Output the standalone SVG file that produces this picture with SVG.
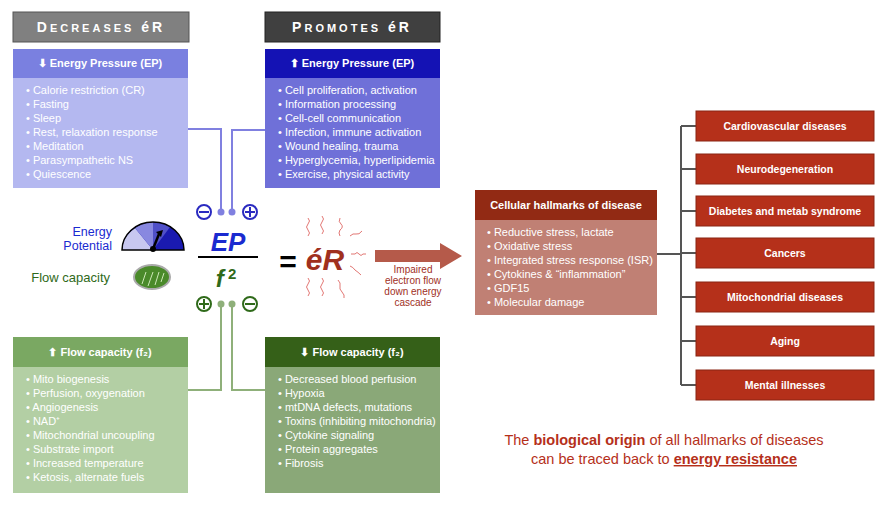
<svg xmlns="http://www.w3.org/2000/svg" width="885" height="512" viewBox="0 0 885 512">
<style>
text{font-family:"Liberation Sans",Arial,sans-serif}
.hd{font-size:11px;font-weight:bold;fill:#fff;text-anchor:middle}
.li{font-size:11px;fill:#fff}
.dz{font-size:10.5px;font-weight:bold;fill:#fff;text-anchor:middle}
.dis{fill:#b5301a;stroke:#8a2412;stroke-width:1}
.sq{fill:none;stroke:#d9534f;stroke-width:0.8}
</style>
<rect width="885" height="512" fill="#fff"/>
<g id="decreases"><rect x="13" y="12" width="176" height="30" fill="#808080" stroke="#555"/>
<text x="101" y="32" font-size="14" font-weight="bold" fill="#fff" text-anchor="middle" letter-spacing="3">D<tspan font-size="11">ECREASES</tspan> éR</text></g>
<g id="promotes"><rect x="265" y="12" width="175" height="30" fill="#404040" stroke="#222"/>
<text x="352" y="32" font-size="14" font-weight="bold" fill="#fff" text-anchor="middle" letter-spacing="3">P<tspan font-size="11">ROMOTES</tspan> éR</text></g>
<g id="connectors" fill="none" stroke-width="2">
<path d="M188 129H221V212M265 130H232V212" stroke="#8080e0"/>
<path d="M188 390H221V304M265 390H232V304" stroke="#8fb07a"/>
<path d="M657 254H681M681 126V385M681 126H696M681 169H696M681 211H696M681 253H696M681 297H696M681 341H696M681 385H696" stroke="#555"/>
<path d="M375 250H440V243L462 256L440 269V262H375Z" fill="#b55a4a" stroke="none"/>
</g>
<g id="ep-down"><rect x="13" y="49" width="175" height="139" fill="#b4b8f0"/><rect x="13" y="49" width="175" height="29" fill="#7a80e0"/>
<text class="hd" x="100" y="67">⬇ Energy Pressure (EP)</text>
<text class="li" x="26" y="94">• Calorie restriction (CR)<tspan x="26" dy="14">• Fasting</tspan><tspan x="26" dy="14">• Sleep</tspan><tspan x="26" dy="14">• Rest, relaxation response</tspan><tspan x="26" dy="14">• Meditation</tspan><tspan x="26" dy="14">• Parasympathetic NS</tspan><tspan x="26" dy="14">• Quiescence</tspan></text></g>
<g id="ep-up"><rect x="265" y="49" width="175" height="139" fill="#6f70d8"/><rect x="265" y="49" width="175" height="29" fill="#1412b4"/>
<text class="hd" x="352" y="67">⬆ Energy Pressure (EP)</text>
<text class="li" x="278" y="94">• Cell proliferation, activation<tspan x="278" dy="14">• Information processing</tspan><tspan x="278" dy="14">• Cell-cell communication</tspan><tspan x="278" dy="14">• Infection, immune activation</tspan><tspan x="278" dy="14">• Wound healing, trauma</tspan><tspan x="278" dy="14">• Hyperglycemia, hyperlipidemia</tspan><tspan x="278" dy="14">• Exercise, physical activity</tspan></text></g>
<g id="fc-up"><rect x="13" y="337" width="175" height="156" fill="#b3cfa4"/><rect x="13" y="337" width="175" height="30" fill="#7aa862"/>
<text class="hd" x="100" y="356">⬆ Flow capacity (f₂)</text>
<text class="li" x="26" y="383">• Mito biogenesis<tspan x="26" dy="14">• Perfusion, oxygenation</tspan><tspan x="26" dy="14">• Angiogenesis</tspan><tspan x="26" dy="14">• NAD⁺</tspan><tspan x="26" dy="14">• Mitochondrial uncoupling</tspan><tspan x="26" dy="14">• Substrate import</tspan><tspan x="26" dy="14">• Increased temperature</tspan><tspan x="26" dy="14">• Ketosis, alternate fuels</tspan></text></g>
<g id="fc-down"><rect x="265" y="337" width="175" height="156" fill="#8aa878"/><rect x="265" y="337" width="175" height="30" fill="#356018"/>
<text class="hd" x="352" y="356">⬇ Flow capacity (f₂)</text>
<text class="li" x="278" y="383">• Decreased blood perfusion<tspan x="278" dy="14">• Hypoxia</tspan><tspan x="278" dy="14">• mtDNA defects, mutations</tspan><tspan x="278" dy="14">• Toxins (inhibiting mitochondria)</tspan><tspan x="278" dy="14">• Cytokine signaling</tspan><tspan x="278" dy="14">• Protein aggregates</tspan><tspan x="278" dy="14">• Fibrosis</tspan></text></g>
<g id="signs">
<circle cx="221" cy="212" r="3.5" fill="#8080e0"/><circle cx="232" cy="212" r="3.5" fill="#8080e0"/>
<circle cx="204" cy="212" r="7" fill="none" stroke="#2a2ac0" stroke-width="2"/><path d="M199 212H209" stroke="#2a2ac0" stroke-width="2"/>
<circle cx="250" cy="212" r="7" fill="none" stroke="#2a2ac0" stroke-width="2"/><path d="M245 212H255M250 207V217" stroke="#2a2ac0" stroke-width="2"/>
<circle cx="221" cy="304" r="3.5" fill="#8fb07a"/><circle cx="232" cy="304" r="3.5" fill="#8fb07a"/>
<circle cx="204" cy="304" r="7" fill="none" stroke="#2f6a1a" stroke-width="2"/><path d="M199 304H209M204 299V309" stroke="#2f6a1a" stroke-width="2"/>
<circle cx="250" cy="304" r="7" fill="none" stroke="#2f6a1a" stroke-width="2"/><path d="M245 304H255" stroke="#2f6a1a" stroke-width="2"/>
</g>
<g id="equation">
<text x="228" y="251" font-size="26" font-weight="bold" font-style="italic" fill="#1a2ad0" text-anchor="middle">EP</text>
<path d="M198 257H258" stroke="#000" stroke-width="2"/>
<text x="226" y="287" font-size="24" font-weight="bold" font-style="italic" fill="#2f6a1a" text-anchor="middle">f<tspan font-size="15" font-style="normal" dy="-8"> 2</tspan></text>
<text x="288" y="272" font-size="30" font-weight="bold" fill="#000" text-anchor="middle">=</text>
<text x="325" y="270" font-size="30" font-weight="bold" font-style="italic" fill="#a0301e" text-anchor="middle">éR</text>
<g class="sq">
<path d="M308 218q3 3 0 6q-3 3 0 6q3 3 0 6"/><path d="M322 216q3 3 0 6q-3 3 0 6q3 3 0 6"/><path d="M340 218q-2 4 1 6q3 3 -1 6q-2 3 0 6"/>
<path d="M350 236q3 -3 6 -2q3 1 6 -3"/><path d="M351 254h4q2 -3 4 0q2 3 4 0h3"/><path d="M350 266q3 1 5 4q3 2 6 5"/>
<path d="M308 278q3 3 0 6q-3 3 0 6q3 3 0 6"/><path d="M322 278q3 3 0 6q-3 3 0 6q3 3 0 6"/><path d="M338 280q3 3 2 6q-1 3 2 6q3 3 2 6"/>
</g>
<text x="413" y="273" font-size="10" fill="#a0301e" text-anchor="middle">Impaired<tspan x="413" dy="11">electron flow</tspan><tspan x="413" dy="11">down energy</tspan><tspan x="413" dy="11">cascade</tspan></text>
</g>
<g id="legend">
<text x="112" y="236" font-size="12.5" fill="#1a2ad0" text-anchor="end">Energy<tspan x="112" dy="14">Potential</tspan></text>
<path d="M122 250A31 28 0 0 1 184 250Z" fill="#1a1ab0"/>
<path d="M122 250A31 28 0 0 1 135 228L153 250Z" fill="#c8c8f0"/>
<path d="M135 228A31 28 0 0 1 153 222L153 250Z" fill="#8888e0"/>
<path d="M153 222A31 28 0 0 1 170 227L153 250Z" fill="#5050c8"/>
<path d="M122 250A31 28 0 0 1 184 250Z" fill="none" stroke="#000" stroke-width="1.5"/>
<path d="M153 249L159 234" stroke="#000" stroke-width="2.5"/><path d="M156 232L163 230L161 237Z" fill="#000"/>
<circle cx="153" cy="249" r="3" fill="#000"/>
<text x="110" y="282" font-size="13" fill="#2f6a1a" text-anchor="end">Flow capacity</text>
<ellipse cx="152" cy="277" rx="18" ry="12" fill="#4a8a2a" stroke="#aaa" stroke-width="2"/>
<path d="M142 284l4 -12M148 286l5 -14M155 285l4 -13M161 282l3 -9" stroke="#cde8b8" stroke-width="1"/>
</g>
<g id="hallmarks"><rect x="475" y="190" width="182" height="125" fill="#c08074"/><rect x="475" y="190" width="182" height="30" fill="#922a14"/>
<text class="hd" x="566" y="209">Cellular hallmarks of disease</text>
<text class="li" x="487" y="236">• Reductive stress, lactate<tspan x="487" dy="14">• Oxidative stress</tspan><tspan x="487" dy="14">• Integrated stress response (ISR)</tspan><tspan x="487" dy="14">• Cytokines &amp; “inflammation”</tspan><tspan x="487" dy="14">• GDF15</tspan><tspan x="487" dy="14">• Molecular damage</tspan></text></g>
<g id="d1"><rect class="dis" x="696" y="111" width="178" height="30"/><text class="dz" x="785" y="130">Cardiovascular diseases</text></g>
<g id="d2"><rect class="dis" x="696" y="154" width="178" height="30"/><text class="dz" x="785" y="173">Neurodegeneration</text></g>
<g id="d3"><rect class="dis" x="696" y="196" width="178" height="30"/><text class="dz" x="785" y="215">Diabetes and metab syndrome</text></g>
<g id="d4"><rect class="dis" x="696" y="238" width="178" height="30"/><text class="dz" x="785" y="257">Cancers</text></g>
<g id="d5"><rect class="dis" x="696" y="282" width="178" height="30"/><text class="dz" x="785" y="301">Mitochondrial diseases</text></g>
<g id="d6"><rect class="dis" x="696" y="326" width="178" height="30"/><text class="dz" x="785" y="345">Aging</text></g>
<g id="d7"><rect class="dis" x="696" y="370" width="178" height="30"/><text class="dz" x="785" y="389">Mental illnesses</text></g>
<g id="footer"><text x="664" y="445" font-size="14.5" fill="#b5301a" text-anchor="middle">The <tspan font-weight="bold">biological origin</tspan> of all hallmarks of diseases</text>
<text x="664" y="464" font-size="14.5" fill="#b5301a" text-anchor="middle">can be traced back to <tspan font-weight="bold" text-decoration="underline">energy resistance</tspan></text></g>
</svg>
